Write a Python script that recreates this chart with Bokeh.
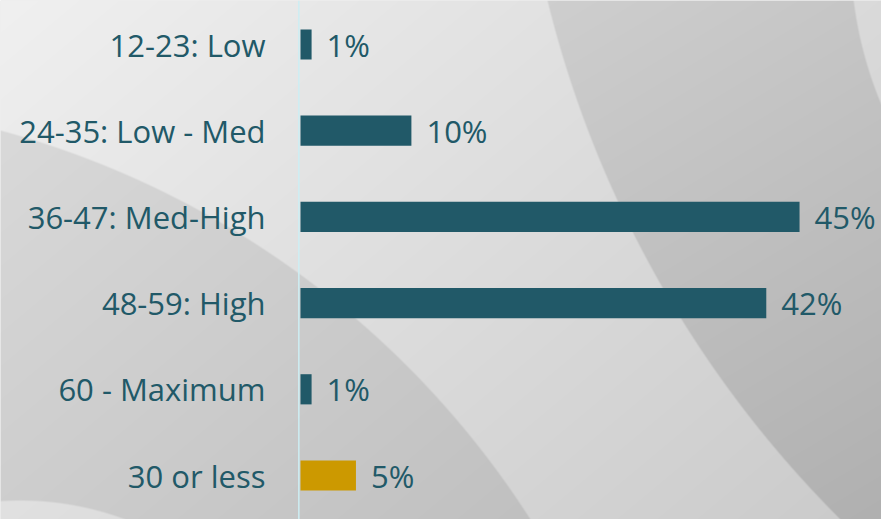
import numpy as np
from bokeh.plotting import figure
from bokeh.models import Range1d, Span, ColumnDataSource
from bokeh.core.properties import value
from bokeh.embed import file_html
from bokeh.resources import INLINE

# ---- data ----
categories = ["12-23: Low", "24-35: Low - Med", "36-47: Med-High",
              "48-59: High", "60 - Maximum", "30 or less"]
percentages = [1, 10, 45, 42, 1, 5]
value_labels = ["1%", "10%", "45%", "42%", "1%", "5%"]

# ---- styles ----
TEAL = "#215968"
GOLD = "#cc9900"
bar_colors = [TEAL, TEAL, TEAL, TEAL, TEAL, GOLD]
FONT = "Open Sans"

# ---- layout ----
W, H = 881, 519
PX_PER_PCT = 11.09
ROW_PX = 86.2
ZERO_PX = 300.0        # x pixel of 0% inside the figure
FIRST_ROW_PX = 44.0    # y pixel (from top) of the first row's centre
n = len(categories)
ypos = [n - 1 - i for i in range(n)]

x_start = -ZERO_PX / PX_PER_PCT
x_end = (W - ZERO_PX) / PX_PER_PCT
y_end = (n - 1) + FIRST_ROW_PX / ROW_PX
y_start = (n - 1) - (H - FIRST_ROW_PX) / ROW_PX

p = figure(width=W, height=H, output_backend="svg", toolbar_location=None,
           x_range=Range1d(x_start, x_end), y_range=Range1d(y_start, y_end),
           x_axis_location=None, y_axis_location=None, min_border=0)
p.grid.visible = False
p.outline_line_color = None
p.background_fill_color = "#dddddd"
p.border_fill_color = "#dddddd"

# ---- decorative grey background (gradient with soft curved shapes) ----
X, Y = np.meshgrid(np.arange(W) + 0.5, np.arange(H) + 0.5)


def inside(cx, cy, r):
    d = np.hypot(X - cx, Y - cy)
    return np.clip((r - d) / 1.2 + 0.5, 0, 1)


base = 240 - 0.025 * X - 0.03 * Y
A = inside(-238.8, 1010.9, 912.7)
B = inside(1619.5, -263.3, 1104.3)
C = inside(1250, -50, 400)
D = inside(20, 800, 300)
grey = base - 19 * A * (1 - D) - (20 + 0.012 * Y) * B * (1 - C)
grey = np.clip(grey, 0, 255).astype(np.uint8)
img = np.empty((H, W), dtype=np.uint32)
view = img.view(dtype=np.uint8).reshape((H, W, 4))
view[:, :, 0] = grey
view[:, :, 1] = grey
view[:, :, 2] = grey
view[:, :, 3] = 255
p.image_rgba(image=[np.flipud(img)], x=x_start, y=y_start,
             dw=x_end - x_start, dh=y_end - y_start, level="image")

# ---- axis line ----
p.add_layout(Span(location=-0.15, dimension="height", line_color="#cdeef3",
                  line_width=1.5))

src = ColumnDataSource(dict(y=ypos, pct=percentages, cat=categories,
                            lab=value_labels, color=bar_colors))

p.hbar(y="y", left=0, right="pct", height=0.35, fill_color="color",
       line_color=None, source=src)

p.text(x=0, y="y", text="cat", source=src, x_offset=-35, y_offset=0,
       text_align="right", text_baseline="middle",
       text_font=value(FONT), text_font_size="31px", text_color=TEAL)

p.text(x="pct", y="y", text="lab", source=src, x_offset=15, y_offset=0,
       text_align="left", text_baseline="middle",
       text_font=value(FONT), text_font_size="31px", text_color=TEAL)

open("out.html", "w").write(file_html(p, INLINE))
